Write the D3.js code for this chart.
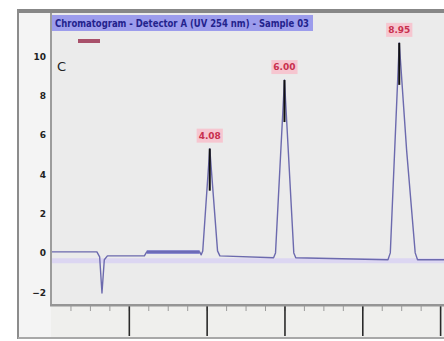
<!DOCTYPE html>
<html>
<head>
<meta charset="utf-8">
<script src="https://cdn.jsdelivr.net/npm/d3@7"></script>
<style>
  html, body { margin: 0; padding: 0; background: #ffffff; }
  svg { display: block; }
  text { font-family: "DejaVu Sans", "Liberation Sans", sans-serif; }
</style>
</head>
<body>
<svg id="chart" width="444" height="341"></svg>
<script>
// Detector trace: [time (min), signal]
const signalTime  = [0, 1.18, 1.25, 1.31, 1.37, 1.45, 2.40, 2.46, 3.82, 3.86, 3.90, 4.08, 4.28, 4.34,
                     5.72, 5.77, 6.00, 6.24, 6.29,
                     8.66, 8.72, 8.95, 9.14, 9.36, 9.42, 10.1];
const signalValue = [0.05, 0.05, -0.2, -2.04, -0.35, -0.15, -0.15, 0.05, 0.05, -0.1, 0.1, 5.3, 0.1, -0.15,
                     -0.25, 0.0, 8.79, 0.0, -0.25,
                     -0.35, 0.0, 10.68, 5.2, 0.0, -0.35, -0.35];

// Integrated baseline segment and reference level
const baselineTime  = [2.46, 3.82];
const baselineValue = [0.05, 0.05];
const referenceTime  = [0, 10.1];
const referenceValue = [-0.4, -0.4];

// Peak annotations
const peakTime   = [4.08, 6.00, 8.95];
const peakHeight = [5.3, 8.79, 10.68];
const peakLabel  = peakTime.map(t => t.toFixed(2));

// Axis ticks
const yTicks = [-2, 0, 2, 4, 6, 8, 10];
const xMajorTicks = [2, 4, 6, 8, 10];
const xMinorTicks = d3.range(0.5, 10.01, 0.5);

const title = "Chromatogram  -  Detector A (UV 254 nm)  -  Sample 03";

const W = 444, H = 341;
const plot = { left: 51, right: 444, top: 12, bottom: 305 };

const svg = d3.select("#chart");

const x = d3.scaleLinear().domain([0, 10.1]).range([plot.left, plot.right]);
const y = d3.scaleLinear().domain([-2.65, 12.25]).range([plot.bottom, plot.top]);

// Backgrounds
svg.append("rect").attr("x", 18).attr("y", 10).attr("width", W - 18).attr("height", 328).attr("fill", "#f4f4f4");
svg.append("rect").attr("x", plot.left).attr("y", plot.top).attr("width", plot.right - plot.left)
   .attr("height", plot.bottom - plot.top).attr("fill", "#ebebeb");
svg.append("rect").attr("x", plot.left).attr("y", plot.bottom).attr("width", plot.right - plot.left)
   .attr("height", 33).attr("fill", "#efefed");

// Title bar
svg.append("rect").attr("x", 52).attr("y", 15).attr("width", 261).attr("height", 16).attr("fill", "#9c9cec");
svg.append("text").attr("x", 55).attr("y", 27).attr("font-size", 10).attr("font-weight", "bold")
   .attr("fill", "#23238c").attr("textLength", 254).attr("lengthAdjust", "spacingAndGlyphs").text(title);

// Small legend swatch
svg.append("rect").attr("x", 78).attr("y", 39).attr("width", 22).attr("height", 4).attr("fill", "#a8506a");

// Reference level
const line = d3.line().x(d => x(d[0])).y(d => y(d[1]));
svg.append("path").datum(d3.zip(referenceTime, referenceValue))
   .attr("d", line).attr("fill", "none").attr("stroke", "#dcd6f2").attr("stroke-width", 5);

// Integrated baseline segment
svg.append("path").datum(d3.zip(baselineTime, baselineValue))
   .attr("d", line).attr("fill", "none").attr("stroke", "#6c6cc6").attr("stroke-width", 3.5);

// Detector trace
svg.append("path").datum(d3.zip(signalTime, signalValue))
   .attr("d", line)
   .attr("fill", "none").attr("stroke", "#6c6aae").attr("stroke-width", 1.4)
   .attr("stroke-linejoin", "round");

// Peak apex markers and labels
const peaks = svg.append("g").selectAll("g").data(d3.range(peakTime.length)).join("g");
peaks.append("line")
   .attr("x1", i => x(peakTime[i])).attr("x2", i => x(peakTime[i]))
   .attr("y1", i => y(peakHeight[i])).attr("y2", i => y(peakHeight[i]) + 42)
   .attr("stroke", "#111111").attr("stroke-width", 2);
const lbl = peaks.append("text")
   .attr("x", i => x(peakTime[i])).attr("y", i => y(peakHeight[i]) - 10)
   .attr("text-anchor", "middle").attr("font-size", 9).attr("font-weight", "bold")
   .attr("fill", "#c8304e").text(i => peakLabel[i]);
lbl.each(function () {
  const b = this.getBBox();
  d3.select(this.parentNode).insert("rect", "text")
    .attr("x", b.x - 2).attr("y", b.y - 2).attr("width", b.width + 4).attr("height", b.height + 4)
    .attr("fill", "#f6c6d0");
});

// Y axis labels
const yAxis = svg.append("g").attr("transform", `translate(${plot.left - 4},0)`)
   .call(d3.axisLeft(y).tickValues(yTicks).tickSize(0).tickPadding(1));
yAxis.select(".domain").remove();
yAxis.selectAll("text").attr("font-size", 9).attr("font-weight", "bold").attr("fill", "#222");

svg.append("text").attr("x", 57).attr("y", 71).attr("font-size", 13).attr("fill", "#222").text("C");

// X axis ticks
const xMinor = svg.append("g").attr("transform", `translate(0,${plot.bottom})`)
   .call(d3.axisBottom(x).tickValues(xMinorTicks).tickSize(6).tickFormat(""));
xMinor.select(".domain").remove();
xMinor.selectAll("line").attr("stroke", "#9a9a9a");
const xMajor = svg.append("g").attr("transform", `translate(0,${plot.bottom})`)
   .call(d3.axisBottom(x).tickValues(xMajorTicks).tickSize(31).tickFormat(""));
xMajor.select(".domain").remove();
xMajor.selectAll("line").attr("stroke", "#2a2a2a").attr("stroke-width", 1.6);

// Frame lines
svg.append("rect").attr("x", 18).attr("y", 9).attr("width", W - 18).attr("height", 4).attr("fill", "#878787");
svg.append("rect").attr("x", 17).attr("y", 9).attr("width", 2).attr("height", 330).attr("fill", "#8c8c8c");
svg.append("rect").attr("x", plot.left - 1).attr("y", 13).attr("width", 2).attr("height", plot.bottom - 13).attr("fill", "#9c9c9c");
svg.append("rect").attr("x", plot.left - 1).attr("y", plot.bottom - 1).attr("width", plot.right - plot.left + 1).attr("height", 2.5).attr("fill", "#959595");
svg.append("rect").attr("x", 18).attr("y", 337).attr("width", W - 18).attr("height", 2).attr("fill", "#a8a8a8");
</script>
</body>
</html>
